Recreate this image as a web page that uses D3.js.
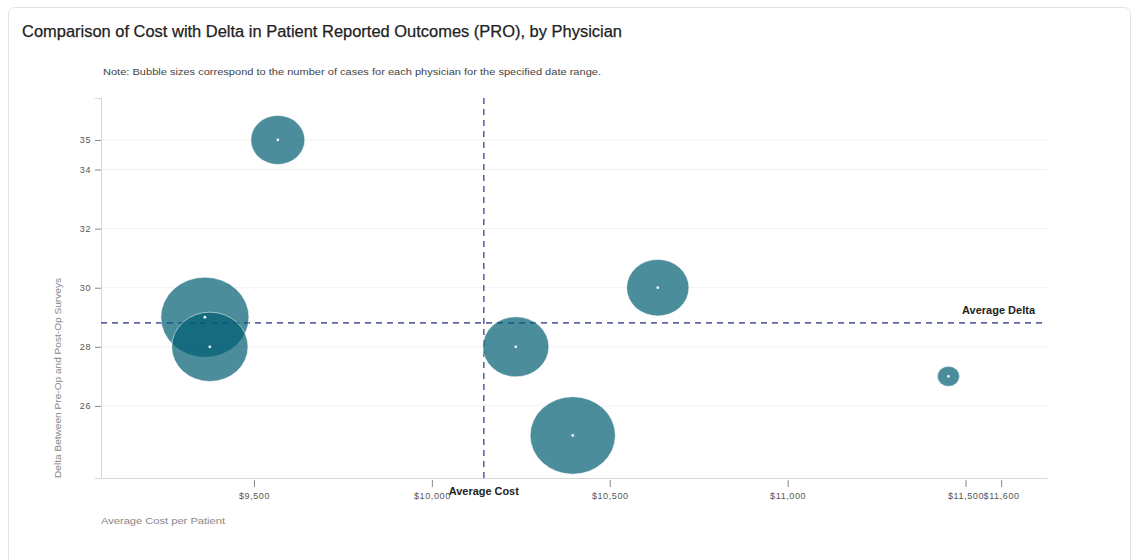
<!DOCTYPE html>
<html>
<head>
<meta charset="utf-8">
<script src="https://cdn.jsdelivr.net/npm/d3@7"></script>
<style>
  html, body { margin: 0; padding: 0; background: #ffffff; }
  svg { display: block; }
  text { font-family: "Liberation Sans", Arial, sans-serif; }
</style>
</head>
<body>
<script>
// ---- data ----
const physicians = ["Physician A", "Physician B", "Physician C", "Physician D", "Physician E", "Physician F", "Physician G"];
const avgCost    = [9567, 9362, 9376, 10236, 10396, 10635, 11452];
const proDelta   = [35, 29, 28, 28, 25, 30, 27];
const caseCounts = [6, 16, 12, 9, 15, 8, 1];
const xTickValues = [9500, 10000, 10500, 11000, 11500, 11600];
const yTickValues = [26, 28, 30, 32, 34, 35];
const averageCost = 10146;
const averageDelta = 28.81;
const xDomain = [9070, 11729];
const yDomain = [23.56, 36.42];

const W = 1135, H = 560;
const svg = d3.select("body").append("svg").attr("width", W).attr("height", H);

// card
svg.append("rect").attr("x", 8.5).attr("y", 7.5).attr("width", 1122).attr("height", 580)
  .attr("rx", 6).attr("fill", "#fff").attr("stroke", "#e3e3e3");

svg.append("text").attr("x", 22).attr("y", 37)
  .attr("font-size", 16).attr("fill", "#222").attr("stroke", "#222").attr("stroke-width", 0.25)
  .attr("textLength", 600).attr("lengthAdjust", "spacingAndGlyphs")
  .text("Comparison of Cost with Delta in Patient Reported Outcomes (PRO), by Physician");

svg.append("text").attr("x", 103).attr("y", 75)
  .attr("font-size", 9).attr("fill", "#444")
  .attr("textLength", 498).attr("lengthAdjust", "spacingAndGlyphs")
  .text("Note: Bubble sizes correspond to the number of cases for each physician for the specified date range.");

const m = { left: 101, right: 1047, top: 98, bottom: 478 };
const x = d3.scaleLinear().domain(xDomain).range([m.left, m.right]);
const y = d3.scaleLinear().domain(yDomain).range([m.bottom, m.top]);
const r = d3.scaleSqrt().domain([0, 16]).range([0, 40]);
const aspect = 1.1;

// gridlines
svg.append("g").selectAll("line").data(yTickValues).join("line")
  .attr("x1", m.left).attr("x2", m.right)
  .attr("y1", d => y(d)).attr("y2", d => y(d))
  .attr("stroke", "#f1f1f1");

// y axis
const yAxis = svg.append("g").attr("transform", `translate(${m.left},0)`)
  .call(d3.axisLeft(y).tickValues(yTickValues).tickSize(6).tickPadding(4).tickFormat(d3.format("d")));
yAxis.select(".domain").attr("stroke", "#d6d6d6");
yAxis.selectAll(".tick line").attr("stroke", "#888");
yAxis.selectAll(".tick text").attr("font-size", 9).attr("letter-spacing", 0.6).attr("fill", "#555")
  .attr("font-family", "Liberation Sans, Arial, sans-serif");

// x axis
const xAxis = svg.append("g").attr("transform", `translate(0,${m.bottom})`)
  .call(d3.axisBottom(x).tickValues(xTickValues).tickSizeOuter(0).tickSize(0).tickPadding(0).tickFormat(d3.format("$,")));
xAxis.select(".domain").attr("stroke", "#d6d6d6");
xAxis.selectAll(".tick line").remove();
xAxis.selectAll(".tick").append("line").attr("y1", 2).attr("y2", 9).attr("stroke", "#888");
xAxis.selectAll(".tick text").attr("y", 21).attr("dy", 0).attr("font-size", 9).attr("letter-spacing", 0.6)
  .attr("fill", "#555").attr("font-family", "Liberation Sans, Arial, sans-serif");

// axis titles
svg.append("text").attr("x", 101).attr("y", 524).attr("font-size", 9).attr("fill", "#888")
  .attr("textLength", 124).attr("lengthAdjust", "spacingAndGlyphs")
  .text("Average Cost per Patient");
svg.append("text").attr("transform", `translate(61,${m.bottom}) rotate(-90)`)
  .attr("font-size", 9).attr("fill", "#888")
  .attr("textLength", 200).attr("lengthAdjust", "spacingAndGlyphs")
  .text("Delta Between Pre-Op and Post-Op Surveys");

// average lines
svg.append("line").attr("x1", m.left).attr("x2", m.right - 3)
  .attr("y1", y(averageDelta)).attr("y2", y(averageDelta))
  .attr("stroke", "#6265a8").attr("stroke-width", 1.6).attr("stroke-dasharray", "6,5");
svg.append("line").attr("x1", x(averageCost)).attr("x2", x(averageCost))
  .attr("y1", m.top).attr("y2", m.bottom)
  .attr("stroke", "#6265a8").attr("stroke-width", 1.6).attr("stroke-dasharray", "6,5");

svg.append("text").attr("x", x(averageCost)).attr("y", 495).attr("text-anchor", "middle")
  .attr("font-size", 10).attr("font-weight", "bold").attr("fill", "#222")
  .attr("textLength", 70).attr("lengthAdjust", "spacingAndGlyphs").text("Average Cost");
svg.append("text").attr("x", 1035).attr("y", 314).attr("text-anchor", "end")
  .attr("font-size", 10).attr("font-weight", "bold").attr("fill", "#222")
  .attr("textLength", 73).attr("lengthAdjust", "spacingAndGlyphs").text("Average Delta");

// bubbles
const data = physicians.map((p, i) => ({ name: p, cost: avgCost[i], delta: proDelta[i], cases: caseCounts[i] }));
const g = svg.append("g");
g.selectAll("ellipse").data(data).join("ellipse")
  .attr("cx", d => x(d.cost)).attr("cy", d => y(d.delta))
  .attr("rx", d => r(d.cases) * aspect).attr("ry", d => r(d.cases))
  .attr("fill", "#005c72").attr("fill-opacity", 0.7)
  .attr("stroke", "#ffffff").attr("stroke-opacity", 0.5).attr("stroke-width", 1);
g.selectAll("circle.dot").data(data).join("circle").attr("class", "dot")
  .attr("cx", d => x(d.cost)).attr("cy", d => y(d.delta)).attr("r", 1.4)
  .attr("fill", "#eaf6f8");
</script>
</body>
</html>
